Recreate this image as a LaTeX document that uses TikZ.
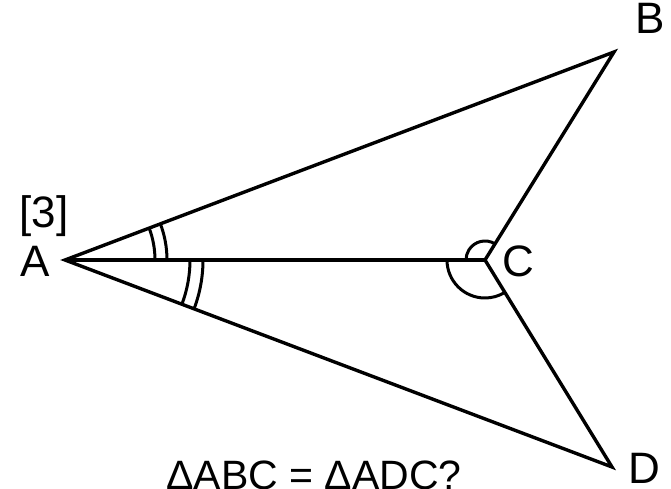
\documentclass[tikz,border=0pt]{standalone}
\usepackage{fontspec}
\setmainfont{Liberation Sans}
\usetikzlibrary{calc}

\begin{document}
\begin{tikzpicture}[x=1pt,y=1pt,
 side/.style={draw,line width=3.4pt},
 anglemark/.style={draw,line width=3pt},
 vlabel/.style={font=\fontsize{44}{50}\selectfont,inner sep=0pt}]
\useasboundingbox (0,0) rectangle (671,489);
\coordinate (A) at (65,229);
\coordinate (B) at (614,437);
\coordinate (C) at (485,229);
\coordinate (D) at (612,22);
\node[vlabel] (la) at (35,228) {A};
\node[vlabel] (lb) at (650,471) {B};
\node[vlabel] (lc) at (518,228) {C};
\node[vlabel] (ld) at (644,21) {D};
\node[vlabel] (num) at (44,273) {[3]};
\node[font=\fontsize{41}{48}\selectfont,inner sep=0pt,anchor=base] (q) at (314,-1) {ΔABC = ΔADC?};
% kite
\draw[side] (A)--(B)--(C)--(D)--cycle;
\draw[side] (A)--(C);
% equal angles at A
\draw[anglemark] ([shift={(0:90)}]A) arc[start angle=0,end angle=20.75,radius=90];
\draw[anglemark] ([shift={(0:102)}]A) arc[start angle=0,end angle=20.75,radius=102];
\draw[anglemark] ([shift={(0:125)}]A) arc[start angle=0,end angle=-20.7,radius=125];
\draw[anglemark] ([shift={(0:138)}]A) arc[start angle=0,end angle=-20.7,radius=138];
% angles at C
\draw[anglemark] ([shift={(58.2:19)}]C) arc[start angle=58.2,end angle=180,radius=19];
\draw[anglemark] ([shift={(180:38)}]C) arc[start angle=180,end angle=301.5,radius=38];
\end{tikzpicture}
\end{document}
